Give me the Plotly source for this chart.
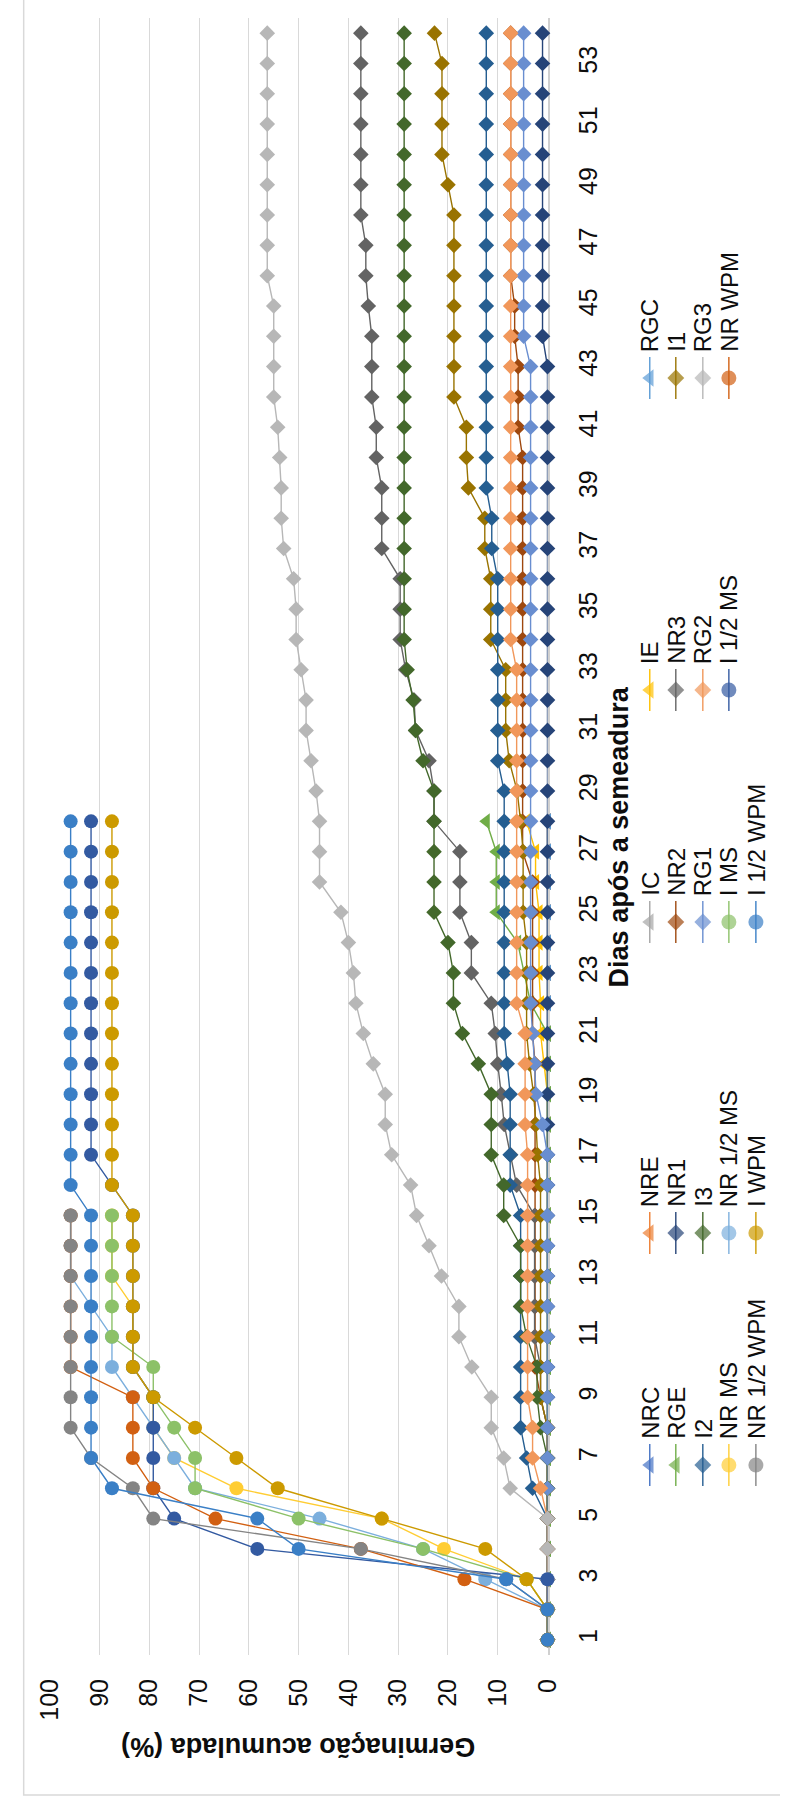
import plotly.graph_objects as go

# ---------------- data ----------------
days = list(range(1, 55))
tick_days = list(range(1, 54, 2))
value_ticks = list(range(0, 101, 10))

# triangles (days 1-28)
NRC = [0, 0, 0, 0, 0, 0, 0, 0, 0, 0, 0, 0, 0, 0, 0, 0, 0, 0, 0, 0, 0, 0, 0, 0, 0, 0, 0, 0]
NRE = [0, 0, 0, 0, 0, 0, 0, 0, 0, 0, 0, 0, 0, 0, 0, 0, 0, 0, 0, 0, 0, 0, 0, 0, 0, 0, 0, 0]
IC = [0, 0, 0, 0, 0, 0, 0, 0, 0, 0, 0, 0, 0, 0, 0, 0, 0, 0, 0, 0, 0, 0, 0, 0, 0, 0, 0, 0]
IE = [0, 0, 0, 0, 0, 0, 0, 0, 0, 0, 0, 0, 0, 0, 0, 0, 0, 0, 0, 0.7, 1.4, 1.4, 1.7, 1.7, 1.7, 2.4, 2.4, 4.2]
RGC = [0, 0, 0, 0, 0, 0, 0, 0, 0, 0, 0, 0, 0, 0, 0, 0, 0, 0, 0, 0, 0, 0, 0, 0, 0, 0, 0, 0]
RGE = [0, 0, 0, 0, 0, 0, 0, 0, 0, 0, 0, 0, 0, 0, 0, 0, 0, 0, 0, 0, 0, 3.4, 4.7, 6.0, 10.3, 10.3, 10.3, 12.3]

# diamonds (days 1-54)
NR1 = [0, 0, 0, 0, 0, 0, 0, 0, 0, 0, 0, 0, 0, 0, 0, 0, 0, 0, 0, 0, 0, 0, 0, 0, 0, 0, 0,
       0, 0, 0, 0, 0, 0, 0, 0, 0, 0, 0, 0, 0, 0, 0, 0, 1.0, 1.0, 1.0, 1.0, 1.0, 1.0, 1.0, 1.0, 1.0, 1.0, 1.0]
NR2 = [0, 0, 0, 0, 0, 0, 0, 0, 1.4, 2.5, 2.5, 2.5, 2.5, 2.5, 2.5, 2.5, 2.5, 2.5, 2.5, 2.5, 3.0, 3.0, 3.0, 3.0, 3.0, 3.0, 5.0,
       5.0, 5.0, 5.0, 5.0, 5.0, 5.0, 5.0, 5.0, 5.0, 5.0, 5.0, 5.0, 5.0, 5.9, 5.9, 5.9, 6.6, 6.6, 7.4, 7.4, 7.4, 7.4, 7.4, 7.4, 7.4, 7.4, 7.4]
NR3 = [0, 0, 0, 0, 0, 0, 0, 0, 1.4, 1.4, 2.6, 2.6, 2.6, 2.6, 2.6, 6.2, 7.4, 8.7, 9.3, 10.0, 10.5, 11.3, 15.3, 15.3, 17.6, 17.6, 17.6,
       22.8, 22.8, 23.8, 26.5, 26.8, 28.5, 29.6, 29.6, 29.6, 33.3, 33.3, 33.3, 34.4, 34.4, 35.3, 35.3, 35.3, 36.0, 36.5, 36.5, 37.5, 37.5, 37.5, 37.5, 37.5, 37.5, 37.5]
I1 = [0, 0, 0, 0, 0, 0, 0, 0, 1.4, 1.4, 1.4, 1.4, 1.4, 1.4, 1.4, 1.4, 2.0, 2.3, 2.8, 3.6, 4.2, 4.2, 4.2, 4.2, 4.9, 4.9, 4.9,
      5.4, 6.1, 7.7, 8.4, 8.4, 8.4, 11.4, 11.4, 11.4, 12.6, 12.6, 15.9, 16.3, 16.3, 18.8, 18.8, 18.8, 18.8, 18.8, 18.8, 18.8, 20.0, 21.2, 21.2, 21.2, 21.2, 22.7]
I2 = [0, 0, 0, 0, 0, 3.0, 4.2, 5.4, 5.4, 5.4, 5.4, 5.4, 5.4, 5.4, 5.4, 7.5, 7.5, 7.5, 7.5, 8.1, 8.7, 8.7, 8.7, 8.7, 8.7, 8.7, 8.7,
      8.7, 8.7, 10.0, 10.0, 10.0, 10.0, 10.0, 10.0, 10.0, 11.2, 11.2, 12.3, 12.3, 12.3, 12.3, 12.3, 12.3, 12.3, 12.3, 12.3, 12.3, 12.3, 12.3, 12.3, 12.3, 12.3, 12.3]
I3 = [0, 0, 0, 0, 0, 0, 0, 1.4, 2.1, 2.1, 4.2, 5.4, 5.4, 5.4, 8.8, 8.8, 11.3, 11.3, 11.3, 13.9, 17.1, 18.9, 18.9, 20.0, 22.8, 22.8, 22.8,
      22.8, 22.8, 25.0, 26.5, 27.0, 28.2, 28.8, 28.8, 28.8, 28.8, 28.8, 28.8, 28.8, 28.8, 28.8, 28.8, 28.8, 28.8, 28.8, 28.8, 28.8, 28.8, 28.8, 28.8, 28.8, 28.8, 28.8]
RG1 = [0, 0, 0, 0, 0, 0, 0, 0, 0, 0, 0, 0, 0, 0, 0, 0, 0, 1.0, 2.3, 2.6, 3.0, 3.4, 3.4, 3.4, 3.4, 3.4, 3.4,
       3.4, 3.4, 3.4, 3.4, 3.4, 3.4, 3.4, 3.4, 3.4, 3.4, 3.4, 3.4, 3.4, 3.4, 3.4, 3.4, 4.8, 4.8, 4.8, 4.8, 4.8, 4.8, 4.8, 4.8, 4.8, 4.8, 4.8]
RG2 = [0, 0, 0, 0, 0, 1.4, 3.0, 3.0, 4.0, 4.0, 4.0, 4.0, 4.0, 4.0, 4.0, 4.0, 4.0, 4.5, 4.5, 4.5, 4.5, 6.2, 6.2, 6.2, 6.2, 6.2, 6.2,
       6.2, 6.2, 6.2, 6.2, 6.2, 6.2, 7.4, 7.4, 7.4, 7.4, 7.4, 7.4, 7.4, 7.4, 7.4, 7.4, 7.4, 7.4, 7.4, 7.4, 7.4, 7.4, 7.4, 7.4, 7.4, 7.4, 7.4]
RG3 = [0, 0, 0, 0, 0, 7.5, 8.8, 11.3, 11.3, 15.2, 17.8, 17.8, 21.3, 23.8, 26.3, 27.5, 31.3, 32.6, 32.6, 35.0, 37.0, 38.5, 39.0, 40.0, 41.5, 45.8, 45.8,
       45.8, 46.5, 47.5, 48.5, 48.5, 49.5, 50.5, 50.5, 51.0, 53.0, 53.5, 53.5, 53.8, 54.2, 55.0, 55.0, 55.0, 55.0, 56.3, 56.3, 56.3, 56.3, 56.3, 56.3, 56.3, 56.3, 56.3]

# circles
NR_MS = [0, 0, 4.2, 20.8, 33.3, 62.5, 75.0, 79.2, 79.2, 83.3, 83.3, 83.3, 87.5, 87.5, 87.5]
NR_HALF_MS = [0, 0, 12.5, 25.0, 45.8, 70.8, 75.0, 79.2, 83.3, 87.5, 87.5, 91.7, 95.8, 95.8, 95.8]
I_MS = [0, 0, 4.2, 25.0, 50.0, 70.8, 70.8, 75.0, 79.2, 79.2, 87.5, 87.5, 87.5, 87.5, 87.5]
I_HALF_MS = [0, 0, 0, 58.3, 75.0, 79.2, 79.2, 79.2, 79.2, 83.3, 83.3, 83.3, 83.3, 83.3, 83.3, 87.5,
             91.7, 91.7, 91.7, 91.7, 91.7, 91.7, 91.7, 91.7, 91.7, 91.7, 91.7, 91.7]
NR_WPM = [0, 0, 16.7, 37.5, 66.7, 79.2, 83.3, 83.3, 83.3, 95.8, 95.8, 95.8, 95.8, 95.8, 95.8]
NR_HALF_WPM = [0, 0, 8.3, 37.5, 79.2, 83.3, 91.7, 95.8, 95.8, 95.8, 95.8, 95.8, 95.8, 95.8, 95.8]
I_WPM = [0, 0, 4.2, 12.5, 33.3, 54.2, 62.5, 70.8, 79.2, 83.3, 83.3, 83.3, 83.3, 83.3, 83.3,
         87.5, 87.5, 87.5, 87.5, 87.5, 87.5, 87.5, 87.5, 87.5, 87.5, 87.5, 87.5, 87.5]
I_HALF_WPM = [0, 0, 8.3, 50.0, 58.3, 87.5, 91.7, 91.7, 91.7, 91.7, 91.7, 91.7, 91.7, 91.7, 91.7,
              95.8, 95.8, 95.8, 95.8, 95.8, 95.8, 95.8, 95.8, 95.8, 95.8, 95.8, 95.8, 95.8]

series_names = ["NRC", "NRE", "IC", "IE", "RGC", "RGE",
                "NR1", "NR2", "NR3", "I1", "I2", "I3", "RG1", "RG2", "RG3",
                "NR MS", "NR 1/2 MS", "I MS", "I 1/2 MS", "NR WPM", "NR 1/2 WPM", "I WPM", "I 1/2 WPM"]
series_values = [NRC, NRE, IC, IE, RGC, RGE,
                 NR1, NR2, NR3, I1, I2, I3, RG1, RG2, RG3,
                 NR_MS, NR_HALF_MS, I_MS, I_HALF_MS, NR_WPM, NR_HALF_WPM, I_WPM, I_HALF_WPM]
series_colors = ["#4472C4", "#ED7D31", "#A5A5A5", "#FFC000", "#5B9BD5", "#70AD47",
                 "#264478", "#9E480E", "#636363", "#997300", "#255E91", "#43682B",
                 "#698ED0", "#F1975A", "#B7B7B7",
                 "#FFCD33", "#7CAFDD", "#8CC168", "#335AA1", "#D26012", "#848484", "#CC9A00", "#3A7FC6"]
series_symbols = ["triangle-left"] * 6 + ["diamond"] * 9 + ["circle"] * 8

# ---------------- layout geometry (pixels) ----------------
W, H = 793, 1807
PL, PR, PT, PB = 36, 552, 18, 1655
TXT = "#0d0d0d"
FONT = "Liberation Sans, Arial, sans-serif"
sym_size = {"triangle-left": 14, "diamond": 12, "circle": 14}

fig = go.Figure()
for name, vals, col, sym in zip(series_names, series_values, series_colors, series_symbols):
    fig.add_trace(go.Scatter(
        x=vals, y=days[:len(vals)], mode="lines+markers", name=name,
        line=dict(color=col, width=1.4),
        marker=dict(symbol=sym, size=sym_size[sym], color=col, line=dict(width=0)),
        xaxis="x", yaxis="y", showlegend=False, cliponaxis=False, hoverinfo="skip"))

# ---------------- custom rotated legend ----------------
col_x = [658, 685, 713, 740, 768]
entry_y = [1465, 1233, 922, 690, 378]
half = 21
annotations = []
for i, (name, col, sym) in enumerate(zip(series_names, series_colors, series_symbols)):
    r, c = divmod(i, 5)
    cx, cy = col_x[r], entry_y[c]
    fig.add_trace(go.Scatter(
        x=[cx, cx, cx], y=[cy + half, cy, cy - half], mode="lines+markers",
        line=dict(color=col, width=1.4),
        marker=dict(symbol=sym, size=[0, sym_size[sym] + 1, 0], color=col, line=dict(width=0)),
        xaxis="x2", yaxis="y2", showlegend=False, cliponaxis=False, hoverinfo="skip"))
    annotations.append(dict(x=cx, y=cy - half - 3, xref="x2", yref="y2", text=name,
                            textangle=-90, showarrow=False, xanchor="center", yanchor="bottom",
                            font=dict(size=24, color=TXT, family=FONT)))

annotations.append(dict(x=626, y=(PT + PB) / 2, xref="x2", yref="y2", text="<b>Dias após a semeadura</b>",
                        textangle=-90, showarrow=False, xanchor="center", yanchor="middle",
                        font=dict(size=27, color=TXT, family=FONT)))
annotations.append(dict(x=(PL + PR) / 2, y=1747, xref="x2", yref="y2", text="<b>Germinação acumulada (%)</b>",
                        textangle=180, showarrow=False, xanchor="center", yanchor="middle",
                        font=dict(size=27, color=TXT, family=FONT)))

fig.update_layout(
    width=W, height=H, autosize=False,
    margin=dict(l=0, r=0, t=0, b=0, pad=0),
    paper_bgcolor="white", plot_bgcolor="rgba(0,0,0,0)",
    font=dict(family=FONT, color=TXT),
    xaxis=dict(domain=[PL / W, PR / W], range=[100, 0], tickvals=value_ticks, anchor="y",
               showgrid=True, gridcolor="#d9d9d9", gridwidth=1.4, zeroline=False, showline=False,
               ticks="", tickangle=-90, tickfont=dict(size=25, color=TXT, family=FONT),
               ticklabelstandoff=18, layer="below traces", fixedrange=True),
    yaxis=dict(domain=[1 - PB / H, 1 - PT / H], range=[0.5, 54.5], tickvals=tick_days, anchor="x",
               side="right", showgrid=False, zeroline=False, showline=True, linecolor="#d0d0d0",
               linewidth=1.5, ticks="", tickangle=-90, tickfont=dict(size=25, color=TXT, family=FONT),
               ticklabelstandoff=18, layer="below traces", fixedrange=True),
    xaxis2=dict(domain=[0, 1], range=[0, W], visible=False, anchor="y2", fixedrange=True),
    yaxis2=dict(domain=[0, 1], range=[H, 0], visible=False, anchor="x2", fixedrange=True),
    annotations=annotations,
    shapes=[dict(type="rect", xref="x2", yref="y2", x0=9, x1=W + 10, y0=-10, y1=1795,
                 line=dict(color="#d9d9d9", width=1.5), layer="below")],
)

fig.write_html("out.html", config={"displayModeBar": False},
               post_script="document.body.style.margin='0px';document.body.style.overflow='hidden';")
